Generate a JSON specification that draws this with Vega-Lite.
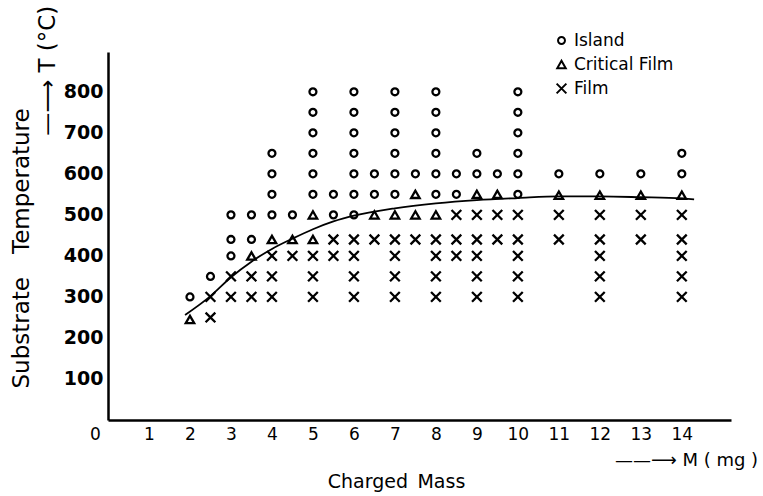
{
  "$schema": "https://vega.github.io/schema/vega-lite/v6.json",
  "width": 623,
  "height": 368,
  "autosize": {"type": "none"},
  "padding": {"left": 108, "top": 52, "right": 32, "bottom": 76},
  "background": "white",
  "config": {"view": {"stroke": null}, "font": "DejaVu Sans"},
  "title": {"text": "Charged\u2002Mass", "orient": "bottom", "anchor": "middle", "frame": "group", "font": "DejaVu Sans", "fontSize": 19, "fontWeight": "normal", "color": "black", "dx": -23, "offset": 4},
  "encoding": {
    "x": {
      "field": "m", "type": "quantitative",
      "scale": {"domain": [0, 15.2], "nice": false, "zero": false},
      "axis": {
        "values": [0, 1, 2, 3, 4, 5, 6, 7, 8, 9, 10, 11, 12, 13, 14],
        "domainColor": "black", "domainWidth": 2.5, "ticks": false, "tickSize": 0, "grid": false,
        "labelFont": "DejaVu Sans", "labelFontSize": 17, "labelColor": "black", "labelPadding": 6,
        "labelOffset": {"condition": {"test": "datum.value === 0", "value": -13}, "value": 0},
        "labelFlush": false, "labelOverlap": false,
        "title": "\u2014\u2014\u27f6 M ( mg )", "titleFont": "DejaVu Sans", "titleFontSize": 18, "titleFontWeight": "normal", "titleColor": "black",
        "titleX": 578, "titleY": 40, "titleAlign": "center", "titleBaseline": "middle", "titleAngle": 0
      }
    },
    "y": {
      "field": "t", "type": "quantitative",
      "scale": {"domain": [0, 897], "nice": false, "zero": false},
      "axis": {
        "values": [100, 200, 300, 400, 500, 600, 700, 800],
        "domainColor": "black", "domainWidth": 2.5, "ticks": false, "tickSize": 0, "grid": false,
        "labelFont": "DejaVu Sans", "labelFontSize": 19, "labelFontWeight": "bold", "labelColor": "black", "labelPadding": 5,
        "labelOverlap": false, "labelFlush": false,
        "title": ["Substrate\u2002\u2002Temperature", "\u2800\u2800\u2800\u2800\u2800\u2800\u2800\u2800\u2800\u2800\u2800\u2800\u2800\u2800\u2800\u2014\u27f6 T (\u00b0C)"],
        "titleFont": "DejaVu Sans", "titleFontSize": 23, "titleFontWeight": "normal", "titleColor": "black",
        "titleAngle": 270, "titleAlign": "left", "titleBaseline": "alphabetic", "titleLineHeight": 26,
        "titleX": -80, "titleY": 336
      }
    }
  },
  "layer": [
    {
      "data": {"values": [
        {"m": 1.88, "t": 256}, {"m": 2.5, "t": 302}, {"m": 3, "t": 348}, {"m": 3.5, "t": 386},
        {"m": 4, "t": 417}, {"m": 4.5, "t": 442}, {"m": 5, "t": 465}, {"m": 5.5, "t": 484},
        {"m": 6, "t": 498}, {"m": 7, "t": 516}, {"m": 8, "t": 528}, {"m": 9, "t": 536},
        {"m": 10, "t": 541}, {"m": 11, "t": 545}, {"m": 12, "t": 545}, {"m": 13, "t": 543},
        {"m": 14, "t": 540}, {"m": 14.3, "t": 538}
      ]},
      "mark": {"type": "line", "interpolate": "monotone", "color": "black", "strokeWidth": 1.8}
    },
    {
      "data": {"values": [
        {"m": 2, "t": 300, "type": "Island"},
        {"m": 2.5, "t": 350, "type": "Island"},
        {"m": 3, "t": 500, "type": "Island"}, {"m": 3, "t": 440, "type": "Island"}, {"m": 3, "t": 400, "type": "Island"},
        {"m": 3.5, "t": 500, "type": "Island"}, {"m": 3.5, "t": 440, "type": "Island"},
        {"m": 4, "t": 650, "type": "Island"}, {"m": 4, "t": 600, "type": "Island"}, {"m": 4, "t": 550, "type": "Island"}, {"m": 4, "t": 500, "type": "Island"},
        {"m": 4.5, "t": 500, "type": "Island"},
        {"m": 5, "t": 800, "type": "Island"}, {"m": 5, "t": 750, "type": "Island"}, {"m": 5, "t": 700, "type": "Island"}, {"m": 5, "t": 650, "type": "Island"}, {"m": 5, "t": 600, "type": "Island"}, {"m": 5, "t": 550, "type": "Island"},
        {"m": 5.5, "t": 550, "type": "Island"}, {"m": 5.5, "t": 500, "type": "Island"},
        {"m": 6, "t": 800, "type": "Island"}, {"m": 6, "t": 750, "type": "Island"}, {"m": 6, "t": 700, "type": "Island"}, {"m": 6, "t": 650, "type": "Island"}, {"m": 6, "t": 600, "type": "Island"}, {"m": 6, "t": 550, "type": "Island"}, {"m": 6, "t": 500, "type": "Island"},
        {"m": 6.5, "t": 600, "type": "Island"}, {"m": 6.5, "t": 550, "type": "Island"},
        {"m": 7, "t": 800, "type": "Island"}, {"m": 7, "t": 750, "type": "Island"}, {"m": 7, "t": 700, "type": "Island"}, {"m": 7, "t": 650, "type": "Island"}, {"m": 7, "t": 600, "type": "Island"}, {"m": 7, "t": 550, "type": "Island"},
        {"m": 7.5, "t": 600, "type": "Island"},
        {"m": 8, "t": 800, "type": "Island"}, {"m": 8, "t": 750, "type": "Island"}, {"m": 8, "t": 700, "type": "Island"}, {"m": 8, "t": 650, "type": "Island"}, {"m": 8, "t": 600, "type": "Island"}, {"m": 8, "t": 550, "type": "Island"},
        {"m": 8.5, "t": 600, "type": "Island"}, {"m": 8.5, "t": 550, "type": "Island"},
        {"m": 9, "t": 650, "type": "Island"}, {"m": 9, "t": 600, "type": "Island"},
        {"m": 9.5, "t": 600, "type": "Island"},
        {"m": 10, "t": 800, "type": "Island"}, {"m": 10, "t": 750, "type": "Island"}, {"m": 10, "t": 700, "type": "Island"}, {"m": 10, "t": 650, "type": "Island"}, {"m": 10, "t": 600, "type": "Island"}, {"m": 10, "t": 550, "type": "Island"},
        {"m": 11, "t": 600, "type": "Island"},
        {"m": 12, "t": 600, "type": "Island"},
        {"m": 13, "t": 600, "type": "Island"},
        {"m": 14, "t": 650, "type": "Island"}, {"m": 14, "t": 600, "type": "Island"},
        {"m": 2, "t": 245, "type": "Critical Film"},
        {"m": 3.5, "t": 400, "type": "Critical Film"},
        {"m": 4, "t": 440, "type": "Critical Film"},
        {"m": 4.5, "t": 440, "type": "Critical Film"},
        {"m": 5, "t": 500, "type": "Critical Film"}, {"m": 5, "t": 440, "type": "Critical Film"},
        {"m": 6.5, "t": 500, "type": "Critical Film"},
        {"m": 7, "t": 500, "type": "Critical Film"},
        {"m": 7.5, "t": 550, "type": "Critical Film"}, {"m": 7.5, "t": 500, "type": "Critical Film"},
        {"m": 8, "t": 500, "type": "Critical Film"},
        {"m": 9, "t": 550, "type": "Critical Film"},
        {"m": 9.5, "t": 550, "type": "Critical Film"},
        {"m": 11, "t": 548, "type": "Critical Film"},
        {"m": 12, "t": 548, "type": "Critical Film"},
        {"m": 13, "t": 548, "type": "Critical Film"},
        {"m": 14, "t": 548, "type": "Critical Film"},
        {"m": 2.5, "t": 300, "type": "Film"}, {"m": 2.5, "t": 250, "type": "Film"},
        {"m": 3, "t": 350, "type": "Film"}, {"m": 3, "t": 300, "type": "Film"},
        {"m": 3.5, "t": 350, "type": "Film"}, {"m": 3.5, "t": 300, "type": "Film"},
        {"m": 4, "t": 400, "type": "Film"}, {"m": 4, "t": 350, "type": "Film"}, {"m": 4, "t": 300, "type": "Film"},
        {"m": 4.5, "t": 400, "type": "Film"},
        {"m": 5, "t": 400, "type": "Film"}, {"m": 5, "t": 350, "type": "Film"}, {"m": 5, "t": 300, "type": "Film"},
        {"m": 5.5, "t": 440, "type": "Film"}, {"m": 5.5, "t": 400, "type": "Film"},
        {"m": 6, "t": 440, "type": "Film"}, {"m": 6, "t": 400, "type": "Film"}, {"m": 6, "t": 350, "type": "Film"}, {"m": 6, "t": 300, "type": "Film"},
        {"m": 6.5, "t": 440, "type": "Film"},
        {"m": 7, "t": 440, "type": "Film"}, {"m": 7, "t": 400, "type": "Film"}, {"m": 7, "t": 350, "type": "Film"}, {"m": 7, "t": 300, "type": "Film"},
        {"m": 7.5, "t": 440, "type": "Film"},
        {"m": 8, "t": 440, "type": "Film"}, {"m": 8, "t": 400, "type": "Film"}, {"m": 8, "t": 350, "type": "Film"}, {"m": 8, "t": 300, "type": "Film"},
        {"m": 8.5, "t": 500, "type": "Film"}, {"m": 8.5, "t": 440, "type": "Film"}, {"m": 8.5, "t": 400, "type": "Film"},
        {"m": 9, "t": 500, "type": "Film"}, {"m": 9, "t": 440, "type": "Film"}, {"m": 9, "t": 400, "type": "Film"}, {"m": 9, "t": 350, "type": "Film"}, {"m": 9, "t": 300, "type": "Film"},
        {"m": 9.5, "t": 500, "type": "Film"}, {"m": 9.5, "t": 440, "type": "Film"},
        {"m": 10, "t": 500, "type": "Film"}, {"m": 10, "t": 440, "type": "Film"}, {"m": 10, "t": 400, "type": "Film"}, {"m": 10, "t": 350, "type": "Film"}, {"m": 10, "t": 300, "type": "Film"},
        {"m": 11, "t": 500, "type": "Film"}, {"m": 11, "t": 440, "type": "Film"},
        {"m": 12, "t": 500, "type": "Film"}, {"m": 12, "t": 440, "type": "Film"}, {"m": 12, "t": 400, "type": "Film"}, {"m": 12, "t": 350, "type": "Film"}, {"m": 12, "t": 300, "type": "Film"},
        {"m": 13, "t": 500, "type": "Film"}, {"m": 13, "t": 440, "type": "Film"},
        {"m": 14, "t": 500, "type": "Film"}, {"m": 14, "t": 440, "type": "Film"}, {"m": 14, "t": 400, "type": "Film"}, {"m": 14, "t": 350, "type": "Film"}, {"m": 14, "t": 300, "type": "Film"}
      ]},
      "mark": {"type": "point", "filled": false, "opacity": 1, "color": "black", "strokeWidth": 2.3},
      "encoding": {
        "shape": {
          "field": "type", "type": "nominal",
          "scale": {"domain": ["Island", "Critical Film", "Film"], "range": ["circle", "triangle-up", "M-1,-1L1,1M-1,1L1,-1"]},
          "legend": {"orient": "none", "legendX": 445, "legendY": -20, "title": null, "padding": 0,
            "labelFont": "DejaVu Sans", "labelFontSize": 17, "labelColor": "black", "labelOffset": 4, "rowPadding": 6,
            "symbolStrokeColor": "black", "symbolStrokeWidth": 2, "symbolFillColor": "transparent"}
        },
        "size": {
          "field": "type", "type": "nominal",
          "scale": {"domain": ["Island", "Critical Film", "Film"], "range": [48, 95, 55]},
          "legend": {"orient": "none", "legendX": 445, "legendY": -20, "title": null, "padding": 0,
            "labelFont": "DejaVu Sans", "labelFontSize": 17, "labelColor": "black", "labelOffset": 4, "rowPadding": 6,
            "symbolStrokeColor": "black", "symbolStrokeWidth": 2, "symbolFillColor": "transparent"}
        }
      }
    }
  ]
}
